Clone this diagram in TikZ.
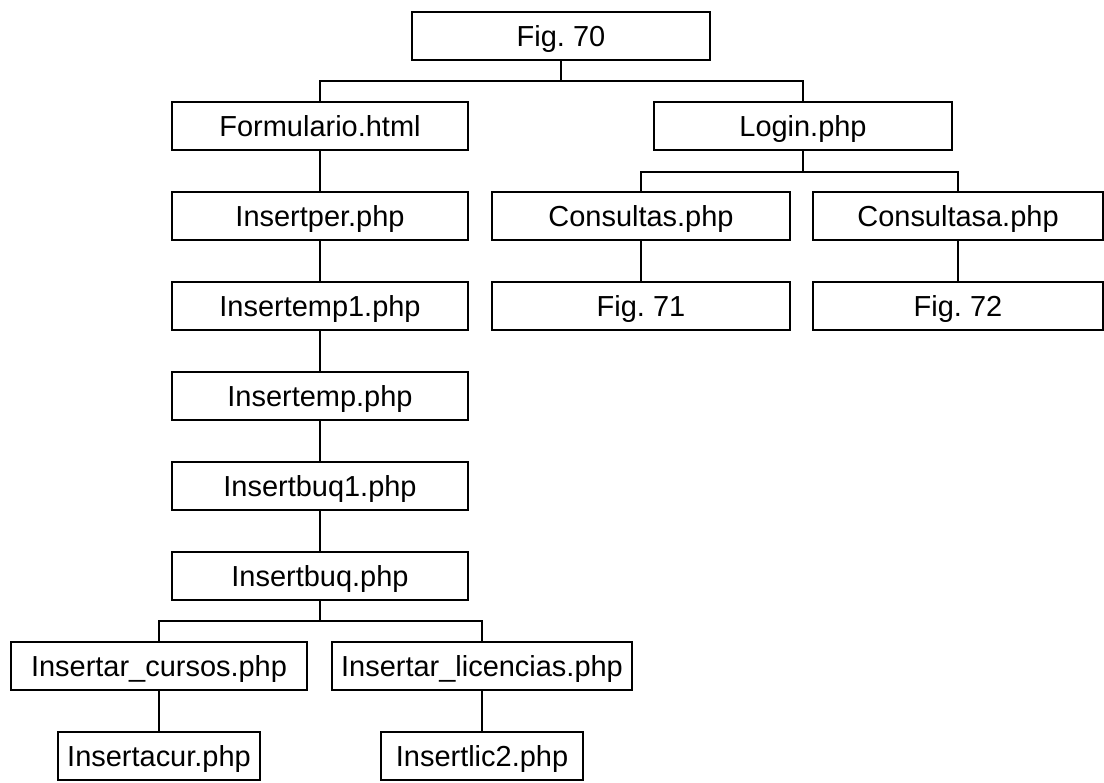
\documentclass[tikz,border=0pt]{standalone}
\usepackage{fontspec}
\setmainfont{Liberation Sans}
\usetikzlibrary{positioning}
\begin{document}
\begin{tikzpicture}[node distance=2.25cm, auto]
    % Styles
    \tikzstyle{page} = [rectangle, draw, line width=1.4pt, minimum width=7.4cm, minimum height=1.2cm, inner sep=0pt, text height=14.8pt, text depth=0pt, font=\fontsize{20.6}{24}\selectfont\frenchspacing]
    \tikzstyle{small} = [page, minimum width=5.05cm]
    \tikzstyle{line} = [line width=1pt]
    \useasboundingbox (0,0) rectangle (27.6,-19.575);

    % Nodes
    \node [page, minimum width=7.45cm] (fig70) at (14.025,-0.9) {Fig. 70};
    \node [page, below of=fig70, xshift=-6.025cm] (form) {Formulario.html};
    \node [page, below of=fig70, xshift=6.05cm, minimum width=7.45cm] (login) {Login.php};
    \node [page, below of=form] (insper) {Insertper.php};
    \node [page, below of=login, xshift=-4.05cm, minimum width=7.45cm] (cons) {Consultas.php};
    \node [page, below of=login, xshift=3.875cm, minimum width=7.25cm] (consa) {Consultasa.php};
    \node [page, below of=cons, minimum width=7.45cm] (fig71) {Fig. 71};
    \node [page, below of=consa, minimum width=7.25cm] (fig72) {Fig. 72};
    \node [page, below of=insper] (insemp1) {Insertemp1.php};
    \node [page, below of=insemp1] (insemp) {Insertemp.php};
    \node [page, below of=insemp] (insbuq1) {Insertbuq1.php};
    \node [page, below of=insbuq1] (insbuq) {Insertbuq.php};
    \node [page, below of=insbuq, xshift=-4.025cm] (cursos) {Insertar\_cursos.php};
    \node [page, below of=insbuq, xshift=4.05cm, minimum width=7.5cm] (lic) {Insertar\_licencias.php};
    \node [small, below of=cursos] (inscur) {Insertacur.php};
    \node [small, below of=lic] (inslic) {Insertlic2.php};

    % Branch points
    \coordinate [below of=fig70, node distance=1.125cm] (b1);
    \coordinate [below of=login, node distance=1.15cm] (b2);
    \coordinate [below of=insbuq, node distance=1.125cm] (b3);

    % Lines
    \draw [line] (fig70) -- (b1) -| (form);
    \draw [line] (b1) -| (login);
    \draw [line] (login) -- (b2) -| (cons);
    \draw [line] (b2) -| (consa);
    \draw [line] (cons) -- (fig71);
    \draw [line] (consa) -- (fig72);
    \draw [line] (form) -- (insper);
    \draw [line] (insper) -- (insemp1);
    \draw [line] (insemp1) -- (insemp);
    \draw [line] (insemp) -- (insbuq1);
    \draw [line] (insbuq1) -- (insbuq);
    \draw [line] (insbuq) -- (b3) -| (cursos);
    \draw [line] (b3) -| (lic);
    \draw [line] (cursos) -- (inscur);
    \draw [line] (lic) -- (inslic);
\end{tikzpicture}
\end{document}
